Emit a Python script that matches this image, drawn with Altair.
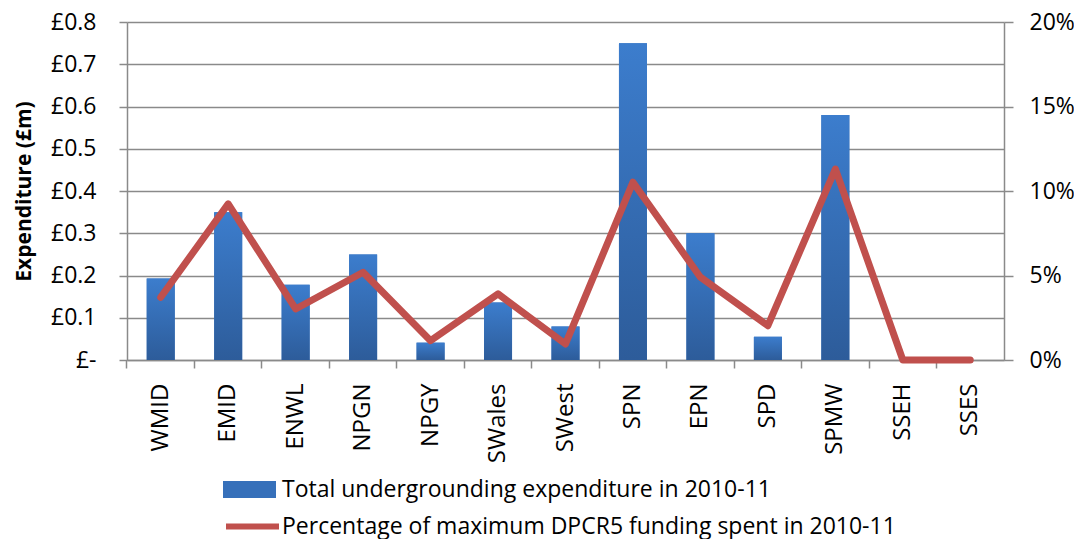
import altair as alt
import pandas as pd

categories = ["WMID", "EMID", "ENWL", "NPGN", "NPGY", "SWales", "SWest",
              "SPN", "EPN", "SPD", "SPMW", "SSEH", "SSES"]
expenditure = [0.193, 0.35, 0.178, 0.25, 0.041, 0.136, 0.079,
               0.75, 0.30, 0.055, 0.58, 0.0, 0.0]
pct_spent = [0.0371, 0.0924, 0.0302, 0.0519, 0.0114, 0.0391, 0.0095,
             0.1052, 0.049, 0.0203, 0.113, 0.0, 0.0]
left_ticks = [0.0, 0.1, 0.2, 0.3, 0.4, 0.5, 0.6, 0.7, 0.8]
right_ticks = [0.0, 0.05, 0.10, 0.15, 0.20]
bar_series = "Total undergrounding expenditure in 2010-11"
line_series = "Percentage of maximum DPCR5 funding spent in 2010-11"

df = pd.DataFrame({
    "category": categories,
    "exp": expenditure,
    "pct": pct_spent,
    "s1": [bar_series] * len(categories),
    "s2": [line_series] * len(categories),
})

FONT = "Open Sans"
GRID = "#8a8a8a"
W, H = 877, 338

x_enc = alt.X(
    "category:N", sort=categories,
    scale=alt.Scale(paddingInner=0, paddingOuter=0),
    axis=alt.Axis(
        title=None, labelAngle=-90, bandPosition=0,
        tickSize=8, tickColor=GRID, tickWidth=1.5, domainColor=GRID, domainWidth=1.5,
        labelFont=FONT, labelFontSize=24, labelColor="black", labelPadding=15,
    ),
)
y_left = alt.Y(
    "exp:Q",
    scale=alt.Scale(domain=[0, 0.8], nice=False),
    axis=alt.Axis(
        values=left_ticks,
        labelExpr="datum.value == 0 ? '£-\u00a0' : '£' + format(datum.value, '.1f')",
        title="Expenditure (£m)", titleFont=FONT, titleFontSize=21, titleFontWeight="bold",
        titleColor="black", titlePadding=16,
        grid=True, gridColor=GRID, gridWidth=1.5,
        tickSize=8, tickColor=GRID, tickWidth=1.5, domainColor=GRID, domainWidth=1.5,
        labelFont=FONT, labelFontSize=23, labelColor="black", labelPadding=23,
    ),
)

gradient = alt.Gradient(
    gradient="linear",
    stops=[alt.GradientStop(color="#3C7DCD", offset=0),
           alt.GradientStop(color="#2D5C9A", offset=1)],
    x1=0, x2=0, y1=0, y2=1,
)

base = alt.Chart(df)
bars_solid = base.mark_bar(width=alt.RelativeBandSize(0.415)).encode(
    x=x_enc, y=y_left,
    fill=alt.Fill("s1:N", scale=alt.Scale(range=["#3670BA"]), legend=alt.Legend(
        title=None, orient="none", legendX=96, legendY=441, padding=0,
        symbolType="M-1,-0.32H1V0.32H-1Z", symbolSize=2809, symbolStrokeWidth=0,
        labelFont=FONT, labelFontSize=23, labelColor="black", labelOffset=6, labelLimit=800,
    )),
)
bars_grad = base.mark_bar(width=alt.RelativeBandSize(0.415), fill=gradient).encode(
    x=x_enc, y=y_left,
)
bars = alt.layer(bars_solid, bars_grad)

line = base.mark_line(strokeWidth=7, strokeCap="round", strokeJoin="round").encode(
    x=x_enc,
    y=alt.Y("pct:Q", scale=alt.Scale(domain=[0, 0.2], nice=False), axis=alt.Axis(
        orient="right", values=right_ticks, format=".0%", title=None, grid=False,
        tickSize=9, tickColor=GRID, tickWidth=1.5, domainColor=GRID, domainWidth=1.5,
        labelFont=FONT, labelFontSize=23, labelColor="black", labelPadding=16,
    )),
    stroke=alt.Stroke("s2:N", scale=alt.Scale(range=["#C0504D"]), legend=alt.Legend(
        title=None, orient="none", legendX=96, legendY=475, padding=0,
        symbolType="stroke", symbolSize=2809, symbolStrokeWidth=6,
        labelFont=FONT, labelFontSize=23, labelColor="black", labelOffset=0, labelLimit=800,
    )),
)

chart = alt.layer(bars, line).resolve_scale(y="independent").properties(
    width=W, height=H,
    padding={"left": 119, "top": 14, "right": 70, "bottom": 179},
    autosize=alt.AutoSizeParams(type="none"),
    background="white",
).configure_view(stroke=None)

chart.save("out.html", embed_options={"renderer": "svg", "actions": False})
